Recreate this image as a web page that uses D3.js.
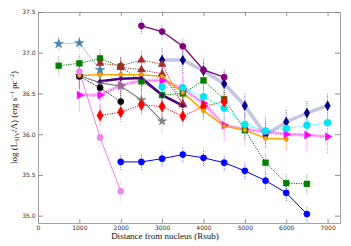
<!DOCTYPE html>
<html>
<head>
<meta charset="utf-8">
<script src="https://cdn.jsdelivr.net/npm/d3@7"></script>
<style>
  body { margin: 0; background: #fff; }
  .tick text { font-family: "DejaVu Sans", sans-serif; font-size: 6px; fill: #333; }
  .tick line { stroke: #777; stroke-width: 0.8; }
  .domain { stroke: #999; stroke-width: 0.9; }
</style>
</head>
<body>
<div id="chart"></div>
<script>
// distances (Rsub) and log surface brightness
var starDist = [500, 1000, 1500];
var starLog = [37.11, 37.12, 36.79];

var greenDist = [500, 1000, 1500, 2000, 2500, 3000, 3500, 4000, 4500, 5000, 5500, 6000, 6500];
var greenLog = [36.84, 36.87, 36.93, 36.83, 36.65, 36.48, 36.50, 36.66, 36.43, 36.05, 35.65, 35.40, 35.39];

var purpleDist = [2500, 3000, 3500, 4000, 4500];
var purpleLog = [37.33, 37.26, 37.08, 36.79, 36.70];

var navyDist = [3000, 3500, 4000, 4500, 5000, 5500, 6000, 6500, 7000];
var navyLog = [36.91, 36.91, 36.78, 36.62, 36.35, 35.99, 36.15, 36.26, 36.35];

var cyanDist = [3000, 3500, 4000, 4500, 5000, 5500, 6000, 6500, 7000];
var cyanLog = [36.58, 36.57, 36.46, 36.32, 36.12, 36.04, 36.07, 36.11, 36.14];

var orangeDist = [1000, 1500, 2000, 2500, 3000, 3500, 4000, 4500, 5000, 5500, 6000];
var orangeLog = [36.72, 36.73, 36.73, 36.73, 36.71, 36.51, 36.29, 36.10, 36.05, 35.95, 35.94];

var indigoDist = [1500, 2000, 2500, 3000, 3500];
var indigoLog = [36.65, 36.68, 36.69, 36.48, 36.35];

var brownDist = [1500, 2000, 2500, 3000, 3500];
var brownLog = [36.87, 36.84, 36.91, 36.86, 36.36];

var brown2Dist = [2000, 2500, 3000, 3500];
var brown2Log = [36.82, 36.79, 36.74, 36.37];

var redDist = [1500, 2000, 2500, 3000, 3500, 4000, 4500];
var redLog = [36.23, 36.27, 36.36, 36.34, 36.22, 36.34, 36.40];

var blackDist = [1000, 1500, 2000];
var blackLog = [36.71, 36.57, 36.40];

var grayDist = [1000, 1500, 2000, 2500, 3000];
var grayLog = [36.72, 36.63, 36.59, 36.42, 36.16];

var magentaDist = [1000, 1500, 2000, 2500, 3000, 3500, 4000, 4500, 5000, 5500, 6000, 6500, 7000];
var magentaLog = [36.48, 36.48, 36.60, 36.66, 36.66, 36.56, 36.38, 36.11, 36.06, 36.03, 36.00, 35.99, 35.97];

var violetDist = [1000, 1500, 2000];
var violetLog = [36.77, 35.96, 35.30];

var blueDist = [2000, 2500, 3000, 3500, 4000, 4500, 5000, 5500, 6000, 6500];
var blueLog = [35.66, 35.66, 35.70, 35.75, 35.71, 35.65, 35.55, 35.43, 35.28, 35.02];

var xTicks = [0, 1000, 2000, 3000, 4000, 5000, 6000, 7000];
var yTicks = [35.0, 35.5, 36.0, 36.5, 37.0, 37.5];

var margin = { top: 12, right: 11, bottom: 23, left: 38 },
    width = 351 - margin.left - margin.right,
    height = 246 - margin.top - margin.bottom;

var svg = d3.select("#chart")
    .append("svg")
    .attr("width", 351)
    .attr("height", 246)
    .append("g")
    .attr("transform", "translate(" + margin.left + "," + margin.top + ")");

var x = d3.scaleLinear().domain([0, 7300]).range([0, width]);
var y = d3.scaleLinear().domain([34.91, 37.5]).range([height, 0]);

function pts(xs, ys) {
    return xs.map(function (d, i) { return { d: d, v: ys[i] }; });
}

// series table built from the arrays above
var series = [
    { data: pts(starDist, starLog), color: "#4682b4", line: "#b4cce4", lw: 1, dash: null, sym: d3.symbolStar, size: 28, err: 0.08 },
    { data: pts(blueDist, blueLog), color: "#0000ff", line: "#0000ff", lw: 1, dash: null, sym: d3.symbolCircle, size: 30, err: 0.1 },
    { data: pts(navyDist, navyLog), color: "#000080", line: "rgba(150,150,205,0.55)", lw: 3.5, dash: null, sym: d3.symbolDiamond, size: 28, err: 0.16 },
    { data: pts(magentaDist, magentaLog), color: "#ff00ff", line: "rgba(238,130,238,0.5)", lw: 3.5, dash: null, sym: d3.symbolTriangle, size: 26, err: 0.2, rot: 90 },
    { data: pts(magentaDist, magentaLog), color: "#ff00ff", line: "#ff00ff", lw: 0.8, dash: "1,1.5", sym: null, err: 0 },
    { data: pts(greenDist, greenLog), color: "#008000", line: "#008000", lw: 1, dash: "1.2,1.2", sym: d3.symbolSquare, size: 34, err: 0.12 },
    { data: pts(cyanDist, cyanLog), color: "#00e5ee", line: "#00ffff", lw: 1, dash: "1.2,1.2", sym: d3.symbolCircle, size: 38, err: 0.15 },
    { data: pts(grayDist, grayLog), color: "#808080", line: "#808080", lw: 1.1, dash: null, sym: d3.symbolStar, size: 26, err: 0.15 },
    { data: pts(blackDist, blackLog), color: "#000000", line: "#555555", lw: 1, dash: "2,1", sym: d3.symbolCircle, size: 30, err: 0.15 },
    { data: pts(redDist, redLog), color: "#ff0000", line: "#ff0000", lw: 1, dash: "1.2,1.2", sym: d3.symbolDiamond, size: 36, err: 0.12 },
    { data: pts(brownDist, brownLog), color: "#a52a2a", line: "#b03030", lw: 1, dash: "1.2,1.2", sym: d3.symbolTriangle, size: 26, err: 0.12 },
    { data: pts(brown2Dist, brown2Log), color: "#a52a2a", line: "#b03030", lw: 1, dash: "1.2,1.2", sym: d3.symbolTriangle, size: 26, err: 0.12 },
    { data: pts(orangeDist, orangeLog), color: "#ffa500", line: "#ffa500", lw: 1.5, dash: null, sym: d3.symbolCircle, size: 14, err: 0.12, edge: "#b36b00" },
    { data: pts(indigoDist, indigoLog), color: "#4b0082", line: "#4b0082", lw: 2.6, dash: null, sym: d3.symbolCircle, size: 10, err: 0.1 },
    { data: pts(purpleDist, purpleLog), color: "#800080", line: "#800080", lw: 1.3, dash: null, sym: d3.symbolCircle, size: 30, err: 0.1 },
    { data: pts(violetDist, violetLog), color: "#ee82ee", line: "#ee82ee", lw: 1, dash: null, sym: d3.symbolCircle, size: 30, err: 0.13 }
];

// frame axes: ticks pointing inward on all four sides
svg.append("g")
    .attr("transform", "translate(0," + height + ")")
    .call(d3.axisBottom(x).tickValues(xTicks).tickSizeInner(-4).tickSizeOuter(0).tickPadding(2.5).tickFormat(d3.format("d")));
svg.append("g")
    .call(d3.axisTop(x).tickValues(xTicks).tickSizeInner(-4).tickSizeOuter(0).tickFormat(""));
svg.append("g")
    .call(d3.axisLeft(y).tickValues(yTicks).tickSizeInner(-5).tickSizeOuter(0).tickPadding(2.5).tickFormat(d3.format(".1f")));
svg.append("g")
    .attr("transform", "translate(" + width + ",0)")
    .call(d3.axisRight(y).tickValues(yTicks).tickSizeInner(-5).tickSizeOuter(0).tickFormat(""));

var plot = svg.append("g");

// error bars first
series.forEach(function (s) {
    if (!s.err) return;
    plot.append("g").selectAll("line")
        .data(s.data)
        .enter().append("line")
        .attr("x1", function (d) { return x(d.d); })
        .attr("x2", function (d) { return x(d.d); })
        .attr("y1", function (d) { return y(d.v - s.err); })
        .attr("y2", function (d) { return y(d.v + s.err); })
        .attr("stroke", s.color)
        .attr("stroke-opacity", 0.7)
        .attr("stroke-width", 0.8)
        .attr("stroke-dasharray", "1,1");
});

var line = d3.line()
    .x(function (d) { return x(d.d); })
    .y(function (d) { return y(d.v); });

series.forEach(function (s) {
    plot.append("path")
        .datum(s.data)
        .attr("d", line)
        .attr("fill", "none")
        .attr("stroke", s.line)
        .attr("stroke-width", s.lw)
        .attr("stroke-dasharray", s.dash);
});

series.forEach(function (s) {
    if (!s.sym) return;
    plot.append("g").selectAll("path")
        .data(s.data)
        .enter().append("path")
        .attr("transform", function (d) {
            return "translate(" + x(d.d) + "," + y(d.v) + ")" + (s.rot ? " rotate(" + s.rot + ")" : "");
        })
        .attr("d", d3.symbol().type(s.sym).size(s.size))
        .attr("fill", s.color)
        .attr("stroke", s.edge || s.color)
        .attr("stroke-width", 0.5);
});

// axis labels
svg.append("text")
    .attr("x", 127)
    .attr("y", height + 16)
    .attr("text-anchor", "middle")
    .style("font-family", "'Liberation Serif', 'DejaVu Serif', serif")
    .style("font-size", "9px")
    .attr("fill", "#111")
    .text("Distance from nucleus (Rsub)");

var yl = svg.append("text")
    .attr("transform", "translate(-21," + (height / 2) + ") rotate(-90)")
    .attr("text-anchor", "middle")
    .style("font-family", "'Liberation Serif', 'DejaVu Serif', serif")
    .style("font-size", "9px")
    .attr("fill", "#111");
yl.append("tspan").text("log (L");
yl.append("tspan").attr("dy", 2).style("font-size", "6px").text("SIV");
yl.append("tspan").attr("dy", -2).text("/\u039b) (erg s");
yl.append("tspan").attr("dy", -3).style("font-size", "6px").text("\u22121");
yl.append("tspan").attr("dy", 3).text(" pc");
yl.append("tspan").attr("dy", -3).style("font-size", "6px").text("\u22122");
yl.append("tspan").attr("dy", 3).text(")");
</script>
</body>
</html>
